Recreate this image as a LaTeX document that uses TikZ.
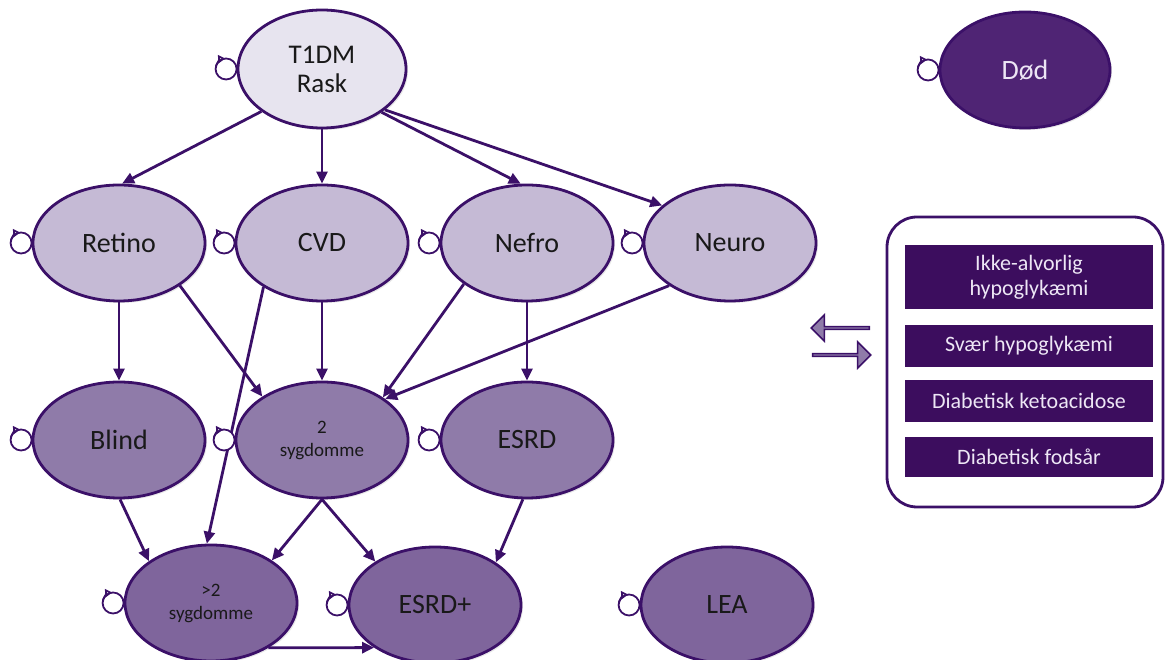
\documentclass[tikz,border=0pt]{standalone}
\usepackage{fontspec}
\setmainfont{Carlito}
\usetikzlibrary{shapes.geometric,shapes.arrows,arrows.meta,shadows}
\definecolor{mork}{HTML}{3B1068}
\definecolor{lys0}{HTML}{E7E4EF}
\definecolor{lys1}{HTML}{C5BAD5}
\definecolor{lys2}{HTML}{8F7BA9}
\definecolor{lys3}{HTML}{7F659C}
\definecolor{doed}{HTML}{4F2474}
\definecolor{boks}{HTML}{3C0D5E}
\definecolor{tekstlys}{HTML}{EDE6F5}
\newcommand{\selfloop}[1]{%
  \draw[loopline,fill=white] ([xshift=-10.5pt]#1.west) circle (10.5pt);
  \draw[loopline,-{Triangle[open,length=7pt,width=8pt]}] ([xshift=-10.5pt]#1.west) ++(165:10.5pt) arc[start angle=165,end angle=95,radius=10.5pt];}

\begin{document}
\begin{tikzpicture}[x=1pt,y=1pt]
	\tikzset{tilstand/.style={ellipse,draw=mork,line width=2.8pt,minimum width=172pt,minimum height=116pt,inner sep=0pt,align=center,text=black!90,font=\fontsize{28}{33}\selectfont,drop shadow={opacity=0.18,shadow xshift=2pt,shadow yshift=-2pt}}}
	\tikzset{lille/.style={font=\fontsize{19}{23}\selectfont}}
	\tikzset{kant/.style={draw=mork,line width=2.8pt,-{Triangle[length=12pt,width=11pt]}}}
	\tikzset{loopline/.style={draw=mork,line width=1.8pt}}
	\tikzset{hendelse/.style={rectangle,fill=boks,text=tekstlys,minimum width=248pt,inner sep=0pt,align=center,font=\fontsize{22}{25}\selectfont}}
	\tikzset{blokpil/.style={single arrow,draw=mork,fill=lys2,line width=1.6pt,minimum height=58pt,minimum width=26pt,single arrow head extend=7pt,single arrow head indent=0pt,inner sep=0pt}}
	\useasboundingbox (0,0) rectangle (1165,660);
	% tilstande
	\node[tilstand,fill=lys0,minimum width=168pt,minimum height=118pt,font=\fontsize{27}{29}\selectfont] (t1dm) at (322,591) {T1DM\\Rask};
	\node[tilstand,fill=lys1] (retino) at (119,417) {Retino};
	\node[tilstand,fill=lys1] (cvd) at (322,417) {CVD};
	\node[tilstand,fill=lys1] (nefro) at (527,417) {Nefro};
	\node[tilstand,fill=lys1] (neuro) at (730,417) {Neuro};
	\node[tilstand,fill=lys2] (blind) at (119,220) {Blind};
	\node[tilstand,fill=lys2,lille] (two) at (322,220) {2\\sygdomme};
	\node[tilstand,fill=lys2] (esrd) at (527,220) {ESRD};
	\node[tilstand,fill=lys3,lille] (more) at (211,57) {>2\\sygdomme};
	\node[tilstand,fill=lys3] (esrdp) at (435,55) {ESRD+};
	\node[tilstand,fill=lys3] (lea) at (727,55) {LEA};
	\node[tilstand,fill=doed,text=tekstlys,minimum width=170pt] (dod) at (1025,590) {Død};
	% overgange
	\draw[kant] (t1dm.215) -- (retino.87);
	\draw[kant] (t1dm.south) -- (cvd.north);
	\draw[kant] (t1dm.-36) -- (nefro.96);
	\draw[kant] (t1dm.-33) -- (neuro.151);
	\draw[kant] (retino.south) -- (blind.north);
	\draw[kant] (retino.-35) -- (two.144);
	\draw[kant] (cvd.south) -- (two.north);
	\draw[kant] (cvd.217) -- (more.94);
	\draw[kant] (nefro.213) -- (two.35);
	\draw[kant] (nefro.south) -- (esrd.north);
	\draw[kant] (neuro.215) -- (two.33);
	\draw[kant] (blind.-89) -- (more.146);
	\draw[kant] (two.-90) -- (more.35);
	\draw[kant] (two.-90) -- (esrdp.144);
	\draw[kant] (esrd.-94) -- (esrdp.35);
	\draw[kant] (more.-38) -- (esrdp.215);
	% bliv i tilstand
	\selfloop{t1dm}
	\selfloop{retino}
	\selfloop{cvd}
	\selfloop{nefro}
	\selfloop{neuro}
	\selfloop{blind}
	\selfloop{two}
	\selfloop{esrd}
	\selfloop{more}
	\selfloop{esrdp}
	\selfloop{lea}
	\selfloop{dod}
	% haendelser
	\node[draw=mork,line width=2.8pt,fill=white,rounded corners=30pt,minimum width=276pt,minimum height=290pt] (legendbox) at (1025,298) {};
	\node[hendelse,minimum height=64pt] (ikke) at (1029,383) {Ikke-alvorlig\\hypoglykæmi};
	\node[hendelse,minimum height=42pt] (svaer) at (1029,314) {Svær hypoglykæmi};
	\node[hendelse,minimum height=42pt] (keto) at (1029,259) {Diabetisk ketoacidose};
	\node[hendelse,minimum height=40pt] (fod) at (1029,203) {Diabetisk fodsår};
	\node[blokpil,shape border rotate=180] (pilind) at (841,332) {};
	\node[blokpil] (pilud) at (841,305) {};
\end{tikzpicture}
\end{document}
